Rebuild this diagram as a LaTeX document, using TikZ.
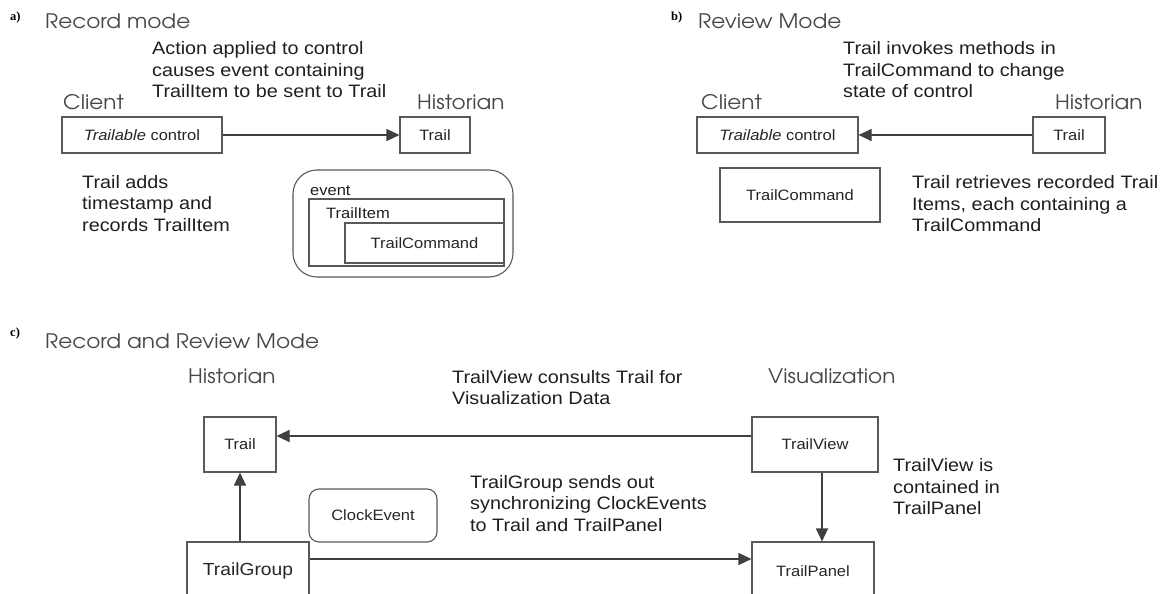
\documentclass[tikz,border=0pt]{standalone}
\usepackage{fontspec}
\setmainfont{Liberation Sans}
\newfontfamily\bodyfont[FakeStretch=1.1]{Liberation Sans}
\newfontfamily\headfont[FakeStretch=1.08]{TeX Gyre Adventor}
\newfontfamily\tagfont{Liberation Serif}
\usetikzlibrary{arrows.meta}

% multi-line notes are placed by the baseline of their last line
\tikzset{
  box/.style={draw=black!65, line width=1.1pt, inner sep=0pt, text=black!85,
    font=\bodyfont\fontsize{15}{18}\selectfont},
  note/.style={anchor=base west, inner sep=0pt, align=left, text=black!88,
    font=\bodyfont\fontsize{18}{21.5}\selectfont},
  head/.style={anchor=base west, inner sep=0pt, text=black!72,
    font=\headfont\fontsize{20}{24}\selectfont},
  tag/.style={anchor=base west, inner sep=0pt,
    font=\tagfont\bfseries\fontsize{12.5}{14}\selectfont},
  arr/.style={draw=black!75, line width=1.1pt, -{Triangle[length=13pt,width=12pt]}},
}

\begin{document}
\begin{tikzpicture}[x=1pt, y=-1pt]
\clip (0,0) rectangle (1163,594);
\fill[white] (0,0) rectangle (1163,594);

% ---------- a) Record mode ----------
\node[tag]  (tagA)  at (10,21)  {a)};
\node[head] (headA) at (45,29)  {Record mode};
\node[head] (cliA)  at (63,110) {Client};
\node[head] (hisA)  at (417,110) {Historian};
\node[note] (noteA1) at (152,97.5) {Action applied to control\\causes event containing\\TrailItem to be sent to Trail};
\node[note] (noteA2) at (82,231) {Trail adds\\timestamp and\\records TrailItem};

\node[box, minimum width=160pt, minimum height=36pt] (ctlA) at (142,135) {\itshape Trailable\upshape{} control};
\node[box, minimum width=70pt, minimum height=36pt] (trailA) at (435,135) {Trail};
\draw[arr] (ctlA.east) -- (trailA.west);

\node[box, rounded corners=24pt, minimum width=220pt, minimum height=107pt] (eventA) at (403,223.5) {};
\node[box, minimum width=195pt, minimum height=67pt] (itemA) at (406.5,232.5) {};
\node[box, minimum width=159pt, minimum height=40pt] (cmdA) at (424.5,243) {TrailCommand};
\node[note, font=\bodyfont\fontsize{15}{18}\selectfont] (evlabA) at (310,195) {event};
\node[note, font=\bodyfont\fontsize{15}{18}\selectfont] (itlabA) at (326,218) {TrailItem};

% ---------- b) Review Mode ----------
\node[tag]  (tagB)  at (671,21)  {b)};
\node[head] (headB) at (698,29)  {Review Mode};
\node[head] (cliB)  at (701,110) {Client};
\node[head] (hisB)  at (1055,110) {Historian};
\node[note] (noteB1) at (843,97.5) {Trail invokes methods in\\TrailCommand to change\\state of control};
\node[note] (noteB2) at (912,231.5) {Trail retrieves recorded Trail\\Items, each containing a\\TrailCommand};

\node[box, minimum width=161pt, minimum height=36pt] (ctlB) at (777.5,135) {\itshape Trailable\upshape{} control};
\node[box, minimum width=72pt, minimum height=36pt] (trailB) at (1069,135) {Trail};
\draw[arr] (trailB.west) -- (ctlB.east);
\node[box, minimum width=160pt, minimum height=54pt] (cmdB) at (800,195) {TrailCommand};

% ---------- c) Record and Review Mode ----------
\node[tag]  (tagC)  at (10,336)  {c)};
\node[head] (headC) at (45,348)  {Record and Review Mode};
\node[head] (hisC)  at (188,383) {Historian};
\node[head] (visC)  at (768,383) {Visualization};
\node[note] (noteC1) at (452,404.5) {TrailView consults Trail for\\Visualization Data};
\node[note] (noteC2) at (470,531) {TrailGroup sends out\\synchronizing ClockEvents\\to Trail and TrailPanel};
\node[note] (noteC3) at (893,514.5) {TrailView is\\contained in\\TrailPanel};

\node[box, minimum width=72pt, minimum height=55pt] (trailC) at (240,444.5) {Trail};
\node[box, rounded corners=10pt, minimum width=128pt, minimum height=53pt] (clockC) at (373,515.5) {ClockEvent};
\node[box, minimum width=122pt, minimum height=58pt, font=\bodyfont\fontsize{17.5}{20}\selectfont] (groupC) at (248,571) {TrailGroup};
\node[box, minimum width=126pt, minimum height=55pt] (viewC) at (815,444.5) {TrailView};
\node[box, minimum width=122pt, minimum height=58pt] (panelC) at (813,571) {TrailPanel};

\draw[arr] ([yshift=8.5pt]viewC.west) -- ([yshift=8.5pt]viewC.west -| trailC.east);
\draw[arr] (trailC.south |- groupC.north) -- (trailC.south);
\draw[arr] ([yshift=12pt]groupC.east) -- ([yshift=12pt]groupC.east -| panelC.west);
\draw[arr] ([xshift=7pt]viewC.south) -- ([xshift=7pt]viewC.south |- panelC.north);
\end{tikzpicture}
\end{document}
